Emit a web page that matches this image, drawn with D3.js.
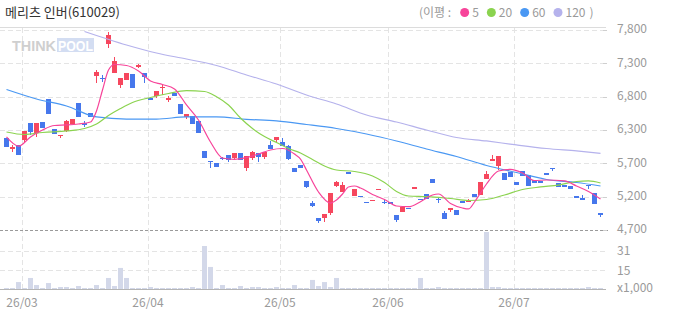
<!DOCTYPE html>
<html>
<head>
<meta charset="utf-8">
<script src="https://cdn.jsdelivr.net/npm/d3@7"></script>
<style>
  body { margin: 0; background: #fff; }
  svg { display: block; font-family: "Noto Sans CJK KR", "Noto Sans", sans-serif; }
</style>
</head>
<body>
<svg id="chart" width="673" height="315"></svg>
<script>
// ---- data ----
const title = "메리츠 인버(610029)";

// daily candles: open, high, low, close
const opens  = [6130,5955,6015,6095,6355,6200,6370,6730,6265,6150,6235,6340,6665,6355,6510,7090,7060,7580,7130,6950,
                7025,7115,7225,7130,6750,6775,6895,6715,6830,6655,6450,6465,6395,5925,5770,5745,5820,5860,5810,5900,
                5655,5820,5900,5835,6015,6090,6070,6000,5655,5705,5465,5125,4890,4880,4970,5380,5295,5605,5230,5225,
                5135,5160,5330,5140,5140,4935,4985,5045,5340,5175,5260,5490,5175,4960,5010,5010,5155,5135,5260,5245,
                5490,5775,5690,5590,5605,5450,5615,5555,5475,5465,5590,5660,5435,5395,5380,5225,5200,5395,5270,4960];
const closes = [5990,5990,5860,6235,6215,6365,6285,6495,6195,6165,6390,6415,6455,6330,6455,7155,7050,7720,7320,7050,
                7130,6905,7260,7075,6720,6855,6920,6750,6775,6500,6500,6345,6210,5820,5750,5680,5800,5785,5890,5785,
                5845,5915,5835,5910,5955,6140,6005,5800,5605,5665,5360,5070,4840,4945,5280,5450,5395,5565,5335,5215,
                5125,5170,5340,5115,5110,4855,5060,5030,5360,5160,5180,5430,5160,4870,5035,4935,5115,5155,5205,5450,
                5570,5800,5845,5475,5525,5395,5535,5380,5435,5435,5555,5645,5370,5360,5330,5195,5170,5385,5110,4935];
const highs  = [6130,6015,6015,6235,6355,6365,6370,6730,6265,6170,6405,6415,6665,6390,6510,7180,7100,7765,7385,7050,
                7130,7115,7270,7130,6760,6855,6945,6775,6830,6655,6500,6465,6395,5925,5770,5745,5830,5860,5900,5900,
                5845,5930,5900,5910,6085,6140,6120,6020,5665,5705,5465,5150,4890,4945,5280,5465,5450,5605,5335,5225,
                5135,5170,5340,5185,5140,4935,5060,5045,5360,5175,5260,5490,5195,4990,5035,5010,5155,5180,5260,5450,
                5620,5860,5845,5590,5605,5450,5615,5555,5475,5465,5590,5660,5435,5395,5380,5225,5240,5395,5270,4960];
const lows   = [5990,5915,5860,6045,6170,6145,6285,6495,6195,6120,6215,6340,6455,6300,6455,6980,6995,7525,7130,6895,
                7025,6905,7210,6975,6715,6740,6790,6690,6775,6500,6420,6345,6210,5820,5665,5680,5785,5760,5785,5785,
                5620,5785,5760,5800,5955,6070,6005,5785,5605,5665,5345,5050,4815,4830,4935,5360,5295,5565,5230,5215,
                5125,5160,5330,5100,5110,4830,4985,5030,5340,5160,5180,5430,5115,4870,4980,4935,5115,5135,5205,5245,
                5490,5775,5630,5475,5525,5395,5535,5380,5435,5435,5555,5615,5370,5360,5330,5195,5170,5330,5110,4905];
// volume, thousands of shares
const volumes = [0.8,0.8,5.6,0.8,8.9,3.2,0.8,4.8,0.8,1.6,1.6,0.8,2.4,0.8,0.8,3.2,0.8,8.9,2.4,17,
                 8.9,0.8,0.8,0.8,1.6,0.8,0.8,0.8,0.8,0.8,0.8,1.6,0.8,34.7,17.8,0.8,3.2,0.8,0.8,2.4,
                 0.8,1.6,1.6,0.8,0.8,1.6,0.8,0.8,3.2,0.8,0.8,7.3,2.4,5.6,1.6,8.9,0.8,0.8,0.8,0.8,
                 0.8,0.8,0.8,0.8,0.8,0.8,0.8,0.8,0.8,8.9,0.8,0.8,1.6,0.8,0.8,0.8,0.8,0.8,0.8,0.8,
                 46,1.6,1.6,0.8,0.8,0.8,0.8,0.8,0.8,0.8,0.8,0.8,0.8,0.8,0.8,0.8,0.8,1.6,0.8,0.8];

// moving averages, [candle index, value]
const ma5 = [[0,6142],[2,5999],[4,6142],[6,6250],[8,6320],[10,6328],[12,6343],[14,6374],[15,6545],[16,6870],
             [17,7180],[18,7265],[20,7250],[22,7165],[24,7010],[26,6955],[28,6886],[30,6638],[32,6405],[34,6064],
             [36,5816],[38,5796],[40,5824],[42,5878],[44,5940],[46,5963],[48,5878],[49,5800],[50,5630],[52,5289],
             [54,5118],[55,5165],[56,5258],[57,5367],[58,5382],[59,5351],[61,5250],[63,5173],[65,5072],[67,5061],
             [69,5139],[71,5243],[72,5258],[74,5111],[76,5041],[77,5026],[78,5134],[79,5274],[80,5413],[82,5615],
             [84,5641],[86,5584],[88,5467],[90,5475],[93,5460],[95,5382],[97,5297],[99,5180]];
const ma20 = [[0,6219],[3,6180],[6,6211],[10,6235],[13,6273],[15,6343],[17,6475],[19,6583],[21,6676],[24,6754],
              [27,6816],[30,6859],[33,6847],[35,6766],[37,6638],[39,6436],[41,6273],[43,6149],[45,6056],[47,5963],
              [49,5894],[51,5793],[53,5692],[55,5630],[58,5607],[61,5537],[63,5436],[65,5297],[67,5227],[70,5216],
              [74,5188],[77,5157],[80,5173],[83,5243],[86,5328],[89,5367],[92,5397],[95,5452],[97,5460],[99,5429]];
const ma60 = [[0,6878],[5,6731],[10,6622],[15,6452],[20,6420],[25,6420],[30,6452],[35,6452],[40,6416],[45,6390],
              [50,6335],[55,6273],[60,6188],[65,6080],[70,5956],[75,5839],[80,5700],[85,5591],[90,5483],[95,5436],[99,5382]];
const ma120 = [[13,7777],[20,7568],[25,7444],[30,7350],[35,7250],[40,7103],[45,6963],[50,6793],[55,6653],[60,6483],
               [65,6374],[70,6250],[75,6134],[80,6080],[85,6018],[90,5963],[95,5925],[99,5889]];

const maNames = ["5", "20", "60", "120"];
const maColors = ["#f7449a", "#8bd34f", "#4a98f3", "#b5b2ec"];

const monthIdx = [3, 24, 46, 64, 85];
const monthLabels = ["26/03", "26/04", "26/05", "26/06", "26/07"];

const priceDomain = [4700, 7800];
const priceTickLabels = ["4,700", "5,200", "5,700", "6,300", "6,800", "7,300", "7,800"];
const volMax = 46;
const volTickValues = [15, 31];

// ---- layout ----
const svg = d3.select("#chart");
const plotLeft = 0, plotRight = 606;
const priceTop = 30, priceBottom = 230;
const volTop = 232, volBottom = 289;
const labelX = 617;
const upColor = "#f6475e", downColor = "#4677ec";

const x = d3.scaleBand()
  .domain(d3.range(opens.length))
  .range([4, 603])
  .paddingInner(1 / 6)
  .paddingOuter(0);
const cx = i => x(i) + x.bandwidth() / 2;

const y = d3.scaleLinear().domain(priceDomain).range([priceBottom, priceTop]);
const yv = d3.scaleLinear().domain([0, volMax]).range([volBottom, volTop]);

// price ticks are evenly spaced, labels rounded to 100
const priceTicks = d3.range(priceTickLabels.length)
  .map(k => priceDomain[0] + k * (priceDomain[1] - priceDomain[0]) / (priceTickLabels.length - 1));

// top border
svg.append("line")
  .attr("x1", plotLeft).attr("x2", plotRight)
  .attr("y1", 27.5).attr("y2", 27.5)
  .style("stroke", "#dcdcdc");

// horizontal grid (price)
svg.append("g")
  .selectAll("line")
  .data(priceTicks.slice(1))
  .join("line")
    .attr("x1", plotLeft).attr("x2", plotRight)
    .attr("y1", d => Math.round(y(d)) + 0.5)
    .attr("y2", d => Math.round(y(d)) + 0.5)
    .style("stroke", "#e4e4e4")
    .style("stroke-dasharray", "5,3");

// horizontal grid (volume)
svg.append("g")
  .selectAll("line")
  .data(volTickValues)
  .join("line")
    .attr("x1", plotLeft).attr("x2", plotRight)
    .attr("y1", d => Math.round(yv(d)) + 0.5)
    .attr("y2", d => Math.round(yv(d)) + 0.5)
    .style("stroke", "#e4e4e4")
    .style("stroke-dasharray", "5,3");

// vertical grid at month starts
svg.append("g")
  .selectAll("line")
  .data(monthIdx)
  .join("line")
    .attr("x1", d => x(d) + 0.5).attr("x2", d => x(d) + 0.5)
    .attr("y1", 28).attr("y2", volBottom)
    .style("stroke", "#e4e4e4")
    .style("stroke-dasharray", "5,3");

// price / volume separator
svg.append("line")
  .attr("x1", plotLeft).attr("x2", plotRight + 4)
  .attr("y1", priceBottom + 0.5).attr("y2", priceBottom + 0.5)
  .style("stroke", "#9a9a9a")
  .style("stroke-dasharray", "3,2");

// watermark
const wm = svg.append("g").attr("transform", "translate(12,51)");
wm.append("text")
  .text("THINK")
  .attr("textLength", 44)
  .attr("lengthAdjust", "spacingAndGlyphs")
  .style("font-family", "Liberation Sans, sans-serif")
  .style("font-weight", "bold")
  .style("font-size", "15px")
  .style("fill", "#cfcfcf");
wm.append("rect")
  .attr("x", 45).attr("y", -13).attr("width", 37).attr("height", 14)
  .style("fill", "#d3ddf2");
wm.append("text")
  .attr("x", 46)
  .text("POOL")
  .attr("textLength", 35)
  .attr("lengthAdjust", "spacingAndGlyphs")
  .style("font-family", "Liberation Sans, sans-serif")
  .style("font-weight", "bold")
  .style("font-size", "15px")
  .style("fill", "#fff");

// volume bars
svg.append("g")
  .selectAll("rect")
  .data(volumes)
  .join("rect")
    .attr("x", (d, i) => x(i))
    .attr("width", x.bandwidth())
    .attr("y", d => yv(d))
    .attr("height", d => volBottom - yv(d))
    .style("fill", "#d3d8e9");

svg.append("line")
  .attr("x1", plotLeft).attr("x2", plotRight)
  .attr("y1", volBottom + 0.5).attr("y2", volBottom + 0.5)
  .style("stroke", "#b5b5b5");

// candles
const candles = svg.append("g")
  .selectAll("g")
  .data(d3.range(opens.length))
  .join("g");

candles.append("line")
  .attr("x1", i => cx(i)).attr("x2", i => cx(i))
  .attr("y1", i => y(highs[i])).attr("y2", i => y(lows[i]))
  .style("stroke", i => closes[i] >= opens[i] ? upColor : downColor)
  .style("shape-rendering", "crispEdges");

candles.append("rect")
  .attr("x", i => x(i))
  .attr("width", x.bandwidth())
  .attr("y", i => y(Math.max(opens[i], closes[i])))
  .attr("height", i => Math.max(1, Math.abs(y(opens[i]) - y(closes[i]))))
  .style("fill", i => closes[i] >= opens[i] ? upColor : downColor)
  .style("shape-rendering", "crispEdges");

// moving averages
const maLine = d3.line()
  .x(d => cx(d[0]))
  .y(d => y(d[1]))
  .curve(d3.curveMonotoneX);

[ma120, ma60, ma20, ma5].forEach((series, k) => {
  svg.append("path")
    .datum(series)
    .attr("d", maLine)
    .style("fill", "none")
    .style("stroke", maColors[3 - k])
    .style("stroke-width", 1.2);
});

// right axis labels
const axisText = (sel) => sel
  .style("font-size", "12px")
  .style("fill", "#9a9a9a")
  .attr("dominant-baseline", "middle");

svg.append("g")
  .selectAll("line")
  .data(priceTicks)
  .join("line")
    .attr("x1", 603).attr("x2", 607)
    .attr("y1", d => Math.round(y(d)) + 0.5).attr("y2", d => Math.round(y(d)) + 0.5)
    .style("stroke", "#cfcfcf");

svg.append("g")
  .selectAll("text")
  .data(priceTicks)
  .join("text")
    .attr("x", labelX)
    .attr("y", d => y(d))
    .text((d, k) => priceTickLabels[k])
    .call(axisText);

svg.append("g")
  .selectAll("text")
  .data(volTickValues)
  .join("text")
    .attr("x", labelX)
    .attr("y", d => yv(d) + 1)
    .text(d => d)
    .call(axisText);

svg.append("text")
  .attr("x", labelX)
  .attr("y", volBottom)
  .text("x1,000")
  .call(axisText);

// month labels
svg.append("g")
  .selectAll("text")
  .data(monthIdx)
  .join("text")
    .attr("x", d => x(d))
    .attr("y", 307)
    .attr("text-anchor", "middle")
    .text((d, k) => monthLabels[k])
    .style("font-size", "12px")
    .style("fill", "#9a9a9a");

// title
svg.append("text")
  .attr("x", 5).attr("y", 17)
  .text(title)
  .style("font-size", "13px")
  .style("fill", "#333");

// legend
const legend = svg.append("g").attr("transform", "translate(419,17)");
let lx = 0;
const leg1 = legend.append("text").attr("x", lx).text("(이평 :")
  .style("font-size", "12px").style("fill", "#9a9a9a");
lx += leg1.node().getComputedTextLength() + 9;
maNames.forEach((name, k) => {
  legend.append("circle")
    .attr("cx", lx + 4.5).attr("cy", -4.5).attr("r", 4.5)
    .style("fill", maColors[k]);
  lx += 12;
  const t = legend.append("text").attr("x", lx).text(name)
    .style("font-size", "12px").style("fill", "#9a9a9a");
  lx += t.node().getComputedTextLength() + 8;
});
legend.append("text").attr("x", lx - 4).text(")")
  .style("font-size", "12px").style("fill", "#9a9a9a");
</script>
</body>
</html>
